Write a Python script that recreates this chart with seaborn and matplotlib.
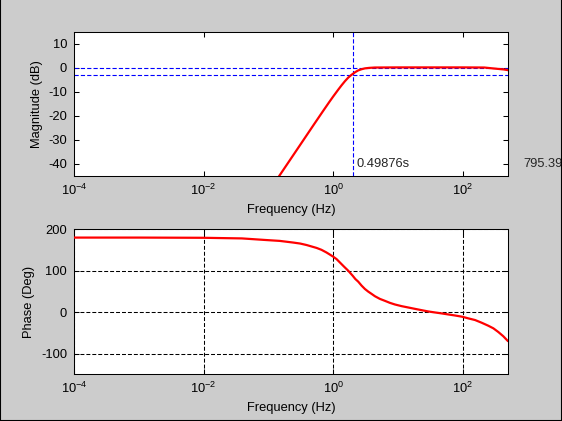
import numpy as np
import pandas as pd
import matplotlib
matplotlib.use("Agg")
import matplotlib.pyplot as plt
from matplotlib.lines import Line2D
from matplotlib.ticker import FixedLocator, FixedFormatter, NullLocator
import seaborn as sns

# values
mag_freq = [0.1, 0.147, 0.3, 0.5, 0.7, 0.87, 1.0, 1.2, 1.35, 1.52, 1.71, 1.93,
            2.2, 2.44, 2.75, 3.1, 3.6, 4.4, 10.0, 100.0, 215.0, 300.0, 430.0, 500.0]
mag_db = [-51.7, -45.0, -32.6, -23.7, -17.9, -14.2, -11.9, -9.0, -7.2, -5.5, -4.0, -2.8,
          -1.7, -1.0, -0.5, -0.15, 0.05, 0.2, 0.25, 0.25, 0.2, -0.2, -0.6, -0.9]

phase_freq = [1e-4, 1e-3, 1e-2, 0.039, 0.094, 0.15, 0.242, 0.31, 0.39, 0.556,
              0.66, 0.79, 0.89, 1.0, 1.13, 1.27, 1.47, 1.71, 2.0, 2.2, 2.44,
              2.75, 3.09, 3.48, 3.93, 4.42, 5.27, 6.3, 7.5, 9.0, 11.4, 14.4,
              18.3, 23.2, 29.4, 37.2, 47.2, 59.7, 75.8, 98.0, 122.0, 155.0,
              196.0, 247.0, 297.0, 355.0, 422.0, 500.0]
phase_deg = [180, 180, 179.5, 178, 174, 172, 168, 165.6, 162, 155,
             150.5, 144, 139, 134, 128, 120, 110, 100, 88, 80, 73.6,
             64, 56, 49.6, 44, 38.4, 32, 27.3, 22.5, 18.5, 14.5, 11.3,
             8, 4.8, 1.7, -0.7, -3, -5.5, -8, -11, -15, -19,
             -25.5, -32.6, -39, -48, -58, -70]

cut_time = 0.49876          # s
cut_freq = 1 / cut_time     # Hz
side_value = 795.39
ref_levels = [0, -3]

xticks = [1e-4, 1e-2, 1e0, 1e2]
xticklabels = [r'$10^{-4}$', r'$10^{-2}$', r'$10^{0}$', r'$10^{2}$']
mag_ticks = [-40, -30, -20, -10, 0, 10]
phase_ticks = [-100, 0, 100, 200]

df_mag = pd.DataFrame({'freq': mag_freq, 'db': mag_db})
df_phase = pd.DataFrame({'freq': phase_freq, 'deg': phase_deg})

sns.set_theme(style="ticks")
plt.rcParams['font.family'] = ['Liberation Sans', 'DejaVu Sans']
plt.rcParams['mathtext.default'] = 'regular'
plt.rcParams['axes.unicode_minus'] = False
plt.rcParams['font.size'] = 9.3

fs = 9.3
gray = '#cccccc'
dash = (0, (3.8, 1.9))

fig = plt.figure(figsize=(5.62, 4.21), dpi=100, facecolor=gray)
ax1 = fig.add_axes([74 / 562, 1 - 176 / 421, 434 / 562, 144 / 421])
ax2 = fig.add_axes([74 / 562, 1 - 374.3 / 421, 434 / 562, 145 / 421])

for ax in (ax1, ax2):
    ax.set_facecolor('white')
    ax.set_xscale('log')
    for s in ax.spines.values():
        s.set_color('black')
        s.set_linewidth(0.75)
        s.set_visible(True)
    ax.tick_params(direction='in', length=3.6, width=0.75, colors='black',
                   top=True, right=True, labelsize=fs, pad=5)
    ax.xaxis.set_major_locator(FixedLocator(xticks))
    ax.xaxis.set_major_formatter(FixedFormatter(xticklabels))
    ax.xaxis.set_minor_locator(NullLocator())
    ax.set_xlim(1e-4, 500)
    ax.set_xlabel('Frequency (Hz)', fontsize=fs, color='black', labelpad=4)

# magnitude
for lvl in ref_levels:
    ax1.axhline(lvl, color='#0000ff', lw=0.8, ls=dash, zorder=1)
ax1.axvline(cut_freq, color='#0000ff', lw=0.8, ls=dash, zorder=1)
sns.lineplot(data=df_mag, x='freq', y='db', ax=ax1, color='red', lw=1.6,
             estimator=None, sort=False, zorder=3)
ax1.set_ylim(-45, 15)
ax1.set_yticks(mag_ticks)
ax1.set_ylabel('Magnitude (dB)', fontsize=fs, color='black')
ax1.annotate('%gs' % cut_time, xy=(cut_freq, -40), xytext=(2.5, 0),
             textcoords='offset points', va='center', ha='left', fontsize=fs,
             annotation_clip=False)
ax1.annotate('%g' % side_value, xy=(side_value, -40), xytext=(1.5, 0),
             textcoords='offset points', va='center', ha='left', fontsize=fs,
             annotation_clip=False)

# phase
sns.lineplot(data=df_phase, x='freq', y='deg', ax=ax2, color='red', lw=1.6,
             estimator=None, sort=False, zorder=3)
ax2.set_ylim(-150, 200)
ax2.set_yticks(phase_ticks)
ax2.set_ylabel('Phase (Deg)', fontsize=fs, color='black')
ax2.grid(True, which='major', color='black', lw=0.75, ls=dash)
ax2.set_axisbelow(True)

# window border (left, right, bottom)
for xs, ys in [([0, 0], [0, 1]), ([1, 1], [0, 1]), ([0, 1], [0, 0])]:
    fig.add_artist(Line2D(xs, ys, color='black', lw=1.5,
                          transform=fig.transFigure, clip_on=False))

fig.savefig('out.png', dpi=100, facecolor=gray)
plt.close(fig)
